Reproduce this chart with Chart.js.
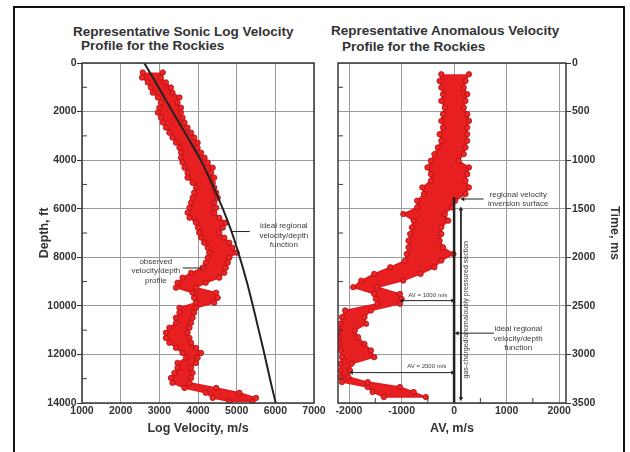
<!DOCTYPE html>
<html lang="en">
<head>
    <meta charset="UTF-8">
    <title>Representative velocity profiles for the Rockies</title>
    <script src="https://cdn.jsdelivr.net/npm/chart.js"></script>
    <style>
        body {
            margin: 0;
            width: 630px;
            height: 452px;
            overflow: hidden;
            background: #fff;
            position: relative;
            font-family: "Liberation Sans", Arial, sans-serif;
        }
        .frame {
            position: absolute;
            left: 13px;
            top: 6px;
            width: 612px;
            height: 470px;
            border: 2px solid #111;
            box-sizing: border-box;
        }
        .ttl {
            position: absolute;
            font-weight: bold;
            font-size: 13.5px;
            line-height: 15px;
            color: #333;
            white-space: nowrap;
        }
        canvas { position: absolute; top: 0; }
        #sonicChart { left: 0; }
        #anomalyChart { left: 320px; }
    </style>
</head>
<body>
    <div class="frame"></div>
    <div class="ttl" style="left:73px;top:23.5px">Representative Sonic Log Velocity</div>
    <div class="ttl" style="left:81px;top:37.5px">Profile for the Rockies</div>
    <div class="ttl" style="left:331px;top:22.5px">Representative Anomalous Velocity</div>
    <div class="ttl" style="left:342px;top:38.5px">Profile for the Rockies</div>

    <canvas id="sonicChart" width="340" height="452"></canvas>
    <canvas id="anomalyChart" width="310" height="452"></canvas>

    <script>
        // ---- left panel: sonic log, depth (ft) vs velocity (m/s)
        const velTicks = [1000, 2000, 3000, 4000, 5000, 6000, 7000];
        const depthTicks = [0, 2000, 4000, 6000, 8000, 10000, 12000, 14000];
        const depthMinor = [1000, 3000, 5000, 7000, 9000, 11000, 13000];

        // observed log, read as left / right edge of the red band at each depth
        const sonicDepthFt = [
            390, 600, 800, 1010, 1220, 1420, 1630, 1840, 2040, 2250, 2450, 2660, 2870, 3070,
            3280, 3490, 3690, 3900, 4100, 4310, 4520, 4720, 4930, 5130, 5340, 5550, 5750, 5960,
            6160, 6370, 6580, 6780, 6990, 7190, 7400, 7610, 7810, 8020, 8220, 8430, 8640, 8840,
            9050, 9250, 9460, 9670, 9870, 10080, 10280, 10490, 10700, 10900, 11110, 11320, 11520,
            11730, 11940, 12140, 12350, 12550, 12760, 12970, 13170, 13380, 13580, 13790, 13930
        ];
        const sonicLeftVel = [
            2570, 2550, 2700, 2780, 2830, 2960, 3040, 3000, 2960, 3040, 3090, 3170, 3260, 3340,
            3430, 3520, 3560, 3560, 3600, 3650, 3730, 3730, 3860, 3950, 3900, 3860, 3820, 3780,
            3730, 3780, 3950, 4000, 4030, 4080, 4160, 4250, 4290, 4250, 4200, 4120, 3820, 3600,
            3470, 3430, 3860, 3900, 3950, 3520, 3520, 3430, 3430, 3260, 3170, 3170, 3260,
            3430, 3600, 3690, 3470, 3470, 3390, 3300, 3340, 3650, 4200, 4380, 4810
        ];
        const sonicRightVel = [
            3090, 3040, 3170, 3300, 3340, 3520, 3470, 3560, 3560, 3600, 3650, 3730, 3820, 3900,
            3990, 3990, 4080, 4170, 4250, 4380, 4340, 4420, 4380, 4420, 4470, 4510, 4420, 4470,
            4420, 4550, 4720, 4640, 4550, 4680, 4810, 4890, 5000, 4810, 4770, 4720, 4680, 4550,
            4200, 3950, 4470, 4510, 4420, 3950, 3900, 3860, 3820, 3780, 3730, 3780, 3820,
            3950, 4080, 3990, 3950, 3820, 3860, 3820, 3780, 4470, 5070, 5500, 5410
        ];

        // ideal regional velocity/depth function
        const idealDepthFt = [0, 1000, 2000, 3000, 4000, 5000, 6000, 7000, 8000, 9000, 10000, 11000, 12000, 13000, 14000];
        const idealVelocity = [2610, 2980, 3340, 3710, 4070, 4370, 4640, 4880, 5080, 5260, 5420, 5570, 5720, 5860, 6010];

        // label leader lines
        const idealLeadVel = [5340, 4880];
        const idealLeadDepth = [6940, 6940];
        const obsLeadVel = [3610, 4100];
        const obsLeadDepth = [8440, 8440];

        // ---- right panel: anomalous velocity (m/s) vs two-way time (ms)
        const avTicks = [-2000, -1000, 0, 1000, 2000];
        const avMinor = [-1500, -500, 500, 1500];
        const timeTicks = [0, 500, 1000, 1500, 2000, 2500, 3000, 3500];
        const timeMinor = [250, 750, 1250, 1750, 2250, 2750, 3250];

        const anomTimeMs = [
            116, 185, 253, 322, 390, 459, 527, 596, 664, 733, 801, 870, 938, 1007, 1075, 1144,
            1212, 1281, 1349, 1418, 1486, 1555, 1623, 1692, 1760, 1829, 1897, 1966, 2034, 2103,
            2171, 2240, 2308, 2377, 2428, 2479, 2548, 2616, 2685, 2753, 2822, 2891, 2959, 3028,
            3096, 3165, 3233, 3285, 3336, 3387, 3439
        ];
        const anomLeftAV = [
            -243, -276, -243, -211, -243, -178, -211, -243, -211, -276, -243, -309, -375, -441, -507, -441,
            -441, -605, -572, -704, -704, -967, -770, -803, -836, -868, -868, -901, -934, -1215,
            -1521, -1767, -1920, -1521, -1491, -1460, -2074, -2135, -2166, -2196, -2196, -2196, -2166, -2135,
            -2166, -2166, -2166, -2135, -1644, -1552, -1337
        ];
        const anomRightAV = [
            283, 217, 184, 250, 217, 184, 250, 283, 250, 250, 250, 217, 184, 86, 283, 250,
            217, 283, 217, 20, -46, -178, -112, -243, -243, -276, -211, -13, -243, -375,
            -638, -967, -1460, -1031, -1000, -1031, -1583, -1706, -1675, -1890, -1828, -1706, -1583, -1521,
            -1951, -1982, -2012, -1644, -1031, -770, -539
        ];

        // ideal function (AV = 0) below the inversion surface, and the arrows
        const idealAV = [0, 0];
        const idealTime = [1380, 3500];
        const inversionArrowAV = [560, 170];
        const inversionArrowTime = [1400, 1400];
        const sectionArrowAV = [130, 130];
        const sectionArrowTime = [1505, 3455];
        const av1000AV = [-990, -30];
        const av1000Time = [2446, 2446];
        const av2000AV = [-1950, -30];
        const av2000Time = [3187, 3187];
        const idealArrowAV = [760, 60];
        const idealArrowTime = [2781, 2781];

        // ---- helpers
        const FONT = 'Liberation Sans';
        const INK = '#333';
        const GRID = '#9a9a9a';

        function pts(xs, ys) {
            return xs.map((x, i) => ({ x: x, y: ys[i] }));
        }

        // band outline: down the left edge, back up the right edge, filled
        function band(ys, left, right) {
            const down = pts(left, ys);
            const up = pts(right, ys).reverse();
            return {
                data: down.concat(up), showLine: true, tension: 0,
                fill: 'shape', backgroundColor: '#e81f21',
                borderColor: '#e01a1e', borderWidth: 1.5, borderJoinStyle: 'round',
                pointRadius: 2.7, pointBackgroundColor: '#ef2522',
                pointBorderColor: '#a8121a', pointBorderWidth: 0.8
            };
        }

        function guide(xs, ys, width, radius, rotation, tension) {
            return {
                data: pts(xs, ys), showLine: true, tension: tension || 0, fill: false,
                borderColor: '#222', borderWidth: width,
                pointStyle: 'triangle', pointRadius: radius, pointRotation: rotation,
                pointBackgroundColor: '#222', pointBorderColor: '#222', pointBorderWidth: 0
            };
        }

        function fixedTicks(values) {
            return axis => { axis.ticks = values.map(v => ({ value: v })); };
        }

        function tickFont() {
            return { family: FONT, size: 10.5, weight: 'bold' };
        }

        function titleFont() {
            return { family: FONT, size: 12.5, weight: 'bold' };
        }

        // frame, inner minor ticks and the small notes
        function panelMarks(minorX, minorY, notes) {
            return {
                id: 'panelMarks',
                afterDatasetsDraw(chart) {
                    const { ctx, chartArea: a } = chart;
                    const sx = chart.scales.x, sy = chart.scales.y;
                    ctx.save();
                    ctx.strokeStyle = '#3a3a3a';
                    ctx.lineWidth = 1.5;
                    ctx.strokeRect(a.left, a.top, a.right - a.left, a.bottom - a.top);

                    ctx.lineWidth = 1;
                    minorY.forEach(v => {
                        const y = sy.getPixelForValue(v);
                        ctx.beginPath(); ctx.moveTo(a.left, y); ctx.lineTo(a.left + 5, y); ctx.stroke();
                    });
                    minorX.forEach(v => {
                        const x = sx.getPixelForValue(v);
                        ctx.beginPath(); ctx.moveTo(x, a.bottom); ctx.lineTo(x, a.bottom - 5); ctx.stroke();
                    });

                    ctx.fillStyle = '#3a3a3a';
                    ctx.textAlign = 'center';
                    ctx.textBaseline = 'middle';
                    notes.forEach(n => {
                        const x = sx.getPixelForValue(n.x), y = sy.getPixelForValue(n.y);
                        ctx.font = n.size + 'px "' + FONT + '"';
                        if (n.rotate) {
                            ctx.save();
                            ctx.translate(x, y);
                            ctx.rotate(-Math.PI / 2);
                            ctx.fillText(n.lines[0], 0, 0);
                            ctx.restore();
                        } else {
                            n.lines.forEach((t, i) => ctx.fillText(t, x, y + i * (n.gap || 0)));
                        }
                    });
                    ctx.restore();
                }
            };
        }

        // ---- left chart
        new Chart(document.getElementById('sonicChart'), {
            type: 'scatter',
            data: {
                datasets: [
                    guide(idealVelocity, idealDepthFt, 2, 0, 0, 0.3),
                    guide(idealLeadVel, idealLeadDepth, 1, 0, 0),
                    guide(obsLeadVel, obsLeadDepth, 1, 0, 0),
                    band(sonicDepthFt, sonicLeftVel, sonicRightVel)
                ]
            },
            options: {
                responsive: false,
                animation: false,
                layout: { padding: { top: 63, right: 26, bottom: 0, left: 0 } },
                plugins: { legend: { display: false }, tooltip: { enabled: false } },
                scales: {
                    x: {
                        type: 'linear', position: 'bottom', min: 1000, max: 7000,
                        afterBuildTicks: fixedTicks(velTicks),
                        afterFit: s => { s.height = 49; },
                        ticks: { color: INK, font: tickFont(), padding: 2, maxRotation: 0, callback: v => String(v) },
                        grid: { color: GRID, drawTicks: false },
                        border: { display: false },
                        title: { display: true, text: 'Log Velocity, m/s', color: INK, font: titleFont(), padding: { top: 0, bottom: 15.5 } }
                    },
                    y: {
                        type: 'linear', reverse: true, min: 0, max: 14000,
                        afterBuildTicks: fixedTicks(depthTicks),
                        afterFit: s => { s.width = 82; },
                        ticks: { color: INK, font: tickFont(), padding: 0.5, callback: v => String(v) },
                        grid: { color: GRID, tickLength: 5, tickColor: '#333' },
                        border: { display: false },
                        title: { display: true, text: 'Depth, ft', color: INK, font: titleFont(), padding: { top: 37.5, bottom: 0 } }
                    }
                }
            },
            plugins: [panelMarks([], depthMinor, [
                { lines: ['ideal regional', 'velocity/depth', 'function'], x: 6220, y: 6710, size: 8, gap: 9.6 },
                { lines: ['observed', 'velocity/depth', 'profile'], x: 2910, y: 8180, size: 8, gap: 9.6 }
            ])]
        });

        // ---- right chart
        new Chart(document.getElementById('anomalyChart'), {
            type: 'scatter',
            data: {
                datasets: [
                    guide(idealAV, idealTime, 2.5, 0, 0),
                    guide(inversionArrowAV, inversionArrowTime, 1, [0, 2.6], -90),
                    guide(sectionArrowAV, sectionArrowTime, 1, 2.6, [0, 180]),
                    guide(av1000AV, av1000Time, 1, 2.4, [-90, 90]),
                    guide(av2000AV, av2000Time, 1, 2.4, [-90, 90]),
                    guide(idealArrowAV, idealArrowTime, 1, [0, 2.6], -90),
                    band(anomTimeMs, anomLeftAV, anomRightAV)
                ]
            },
            options: {
                responsive: false,
                animation: false,
                layout: { padding: { top: 63, right: 0, bottom: 0, left: 18 } },
                plugins: { legend: { display: false }, tooltip: { enabled: false } },
                scales: {
                    x: {
                        type: 'linear', position: 'bottom', min: -2210, max: 2130,
                        afterBuildTicks: fixedTicks(avTicks),
                        afterFit: s => { s.height = 49; },
                        ticks: { color: INK, font: tickFont(), padding: 2, maxRotation: 0, callback: v => String(v) },
                        grid: { color: GRID, drawTicks: false },
                        border: { display: false },
                        title: { display: true, text: 'AV, m/s', color: INK, font: titleFont(), padding: { top: 0, bottom: 15.5 } }
                    },
                    y: {
                        type: 'linear', position: 'right', reverse: true, min: 0, max: 3500,
                        afterBuildTicks: fixedTicks(timeTicks),
                        afterFit: s => { s.width = 64; },
                        ticks: { color: INK, font: tickFont(), padding: 1, callback: v => String(v) },
                        grid: { color: GRID, tickLength: 5, tickColor: '#333' },
                        border: { display: false },
                        title: { display: true, text: 'Time, ms', color: INK, font: titleFont(), padding: { top: 8.5, bottom: 0 } }
                    }
                }
            },
            plugins: [panelMarks(avMinor, timeMinor, [
                { lines: ['regional velocity', 'inversion surface'], x: 1220, y: 1358, size: 8, gap: 9.3 },
                { lines: ['ideal regional', 'velocity/depth', 'function'], x: 1220, y: 2740, size: 8, gap: 9.2 },
                { lines: ['AV = 1000 m/s'], x: -500, y: 2387, size: 6 },
                { lines: ['AV = 2000 m/s'], x: -520, y: 3125, size: 6 },
                { lines: ['gas-charged/anomalously pressured section'], x: 229, y: 2540, size: 7, rotate: true }
            ])]
        });
    </script>
</body>
</html>
